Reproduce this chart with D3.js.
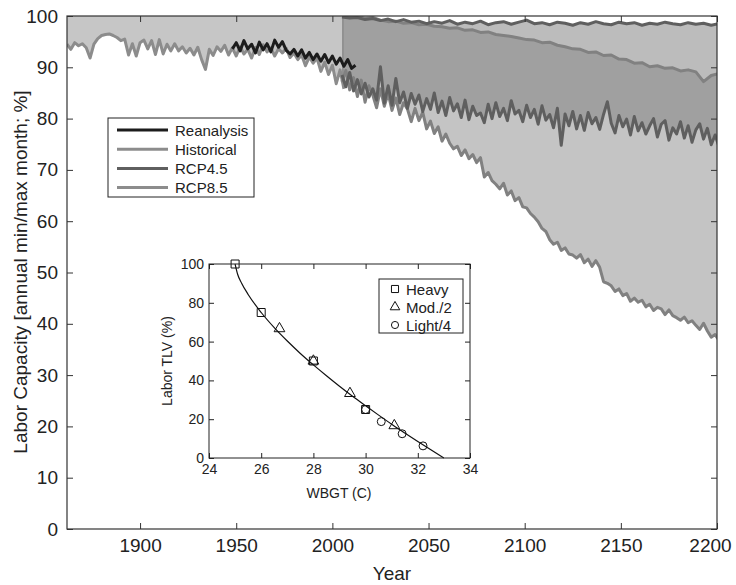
<!DOCTYPE html>
<html>
<head>
<meta charset="utf-8">
<script src="https://d3js.org/d3.v7.min.js"></script>
<style>
  body { margin: 0; background: #fff; }
  text { font-family: "Liberation Sans", Arial, Helvetica, sans-serif; fill: #222; }
</style>
</head>
<body>
<div id="chart"></div>
<script>
// ---- data ----
// historical ensemble lower bound, 1862..2006 every 2 years
var histStart = 1862, histStep = 2;
var histVals = [94.5, 93.5, 94.8, 94.2, 94.6, 93.8, 91.8, 94.5, 95.6, 96.2,
  96.4, 96.5, 96.2, 95.8, 95.2, 95.5, 92.4, 94.6, 92.2, 94.8,
  95.3, 93.6, 95.2, 92.5, 95.4, 92.6, 94.5, 93.2, 94.6, 93.2,
  94.0, 92.8, 93.7, 92.4, 93.9, 91.5, 89.6, 93.5, 92.3, 94.0,
  93.1, 94.3, 92.4, 93.8, 92.2, 94.0, 92.6, 93.5, 91.8, 93.9,
  92.5, 94.4, 93.0, 93.8, 92.2, 93.6, 92.8, 93.7, 91.9, 92.8,
  91.5, 92.4, 90.3, 92.0, 90.8, 91.8, 89.2, 91.0, 88.6, 90.4,
  86.8, 89.5, 85.8];
// reanalysis, 1948..2012 every 2 years
var reanStart = 1948, reanStep = 2;
var reanVals = [93.6, 94.8, 93.2, 95.2, 93.6, 94.5, 92.8, 94.9, 93.4, 94.6,
  93.0, 95.3, 93.9, 95.0, 93.3, 92.6, 93.5, 92.2, 93.4, 91.8,
  92.9, 91.5, 92.6, 91.2, 92.5, 90.9, 92.2, 90.6, 91.8, 90.2,
  91.5, 89.8, 90.4];
// RCP upper bounds, 2005..2201 every 4 years
var upStart = 2005, upStep = 4;
var rcp45Upper = [99.8, 99.6, 99.7, 99.3, 99.5, 99.1, 99.4, 98.9, 99.3, 98.8,
  99.0, 98.5, 98.9, 98.6, 99.1, 98.4, 98.8, 98.5, 99.0, 98.3,
  98.7, 98.9, 98.4, 98.8, 99.2, 98.5, 98.7, 98.3, 98.8, 98.6,
  98.2, 98.7, 98.4, 98.9, 98.5, 98.3, 98.8, 98.5, 98.7, 98.2,
  98.6, 98.4, 98.8, 98.5, 98.3, 98.7, 98.4, 98.6, 98.2, 98.5];
var rcp85Upper = [99.9, 99.8, 99.9, 99.6, 99.7, 99.2, 98.9, 99.0, 98.6, 98.7,
  98.3, 98.4, 98.0, 97.9, 97.6, 97.7, 97.2, 97.3, 96.8, 96.9,
  96.4, 96.2, 96.0, 95.7, 95.4, 95.3, 94.8, 94.9, 94.3, 94.0,
  93.6, 93.5, 92.9, 93.0, 92.3, 92.4, 91.6, 91.5, 90.8, 90.9,
  90.1, 90.3, 89.8, 89.9, 89.3, 89.5, 89.1, 87.2, 88.4, 88.8];
// RCP lower bounds, 2005..2201 every 2 years
var lowStart = 2005, lowStep = 2;
var rcp45Lower = [88.5, 86.2, 89.0, 85.4, 87.6, 84.8, 86.9, 84.2, 85.8, 83.6,
  90.1, 83.0, 86.4, 82.6, 87.8, 83.1, 85.2, 82.0, 84.9, 82.8,
  84.6, 81.4, 83.9, 81.8, 85.0, 81.2, 83.4, 80.6, 84.1, 81.5,
  82.9, 80.2, 83.6, 79.8, 82.4, 80.6, 81.1, 79.2, 82.8, 80.0,
  83.1, 80.4, 82.0, 79.6, 83.5, 80.9, 81.6, 79.4, 82.6, 80.2,
  81.8, 78.9, 82.5, 79.7, 80.8, 78.2, 82.0, 74.8, 80.9, 78.6,
  81.4, 78.0, 80.6, 77.7, 81.2, 79.0, 80.2, 77.9, 80.8, 83.3,
  79.1, 77.2, 80.6, 78.4, 79.9, 76.8, 80.4, 77.6, 79.2, 77.0,
  78.6, 80.0, 76.4, 78.9, 79.6, 75.8, 78.2, 77.0, 79.4, 76.2,
  78.6, 75.4, 77.8, 79.0, 76.0, 78.1, 74.9, 76.8, 74.6];
var rcp85Lower = [87.2, 89.4, 85.6, 88.0, 84.3, 87.5, 83.2, 86.4, 84.6, 82.1,
  85.8, 82.4, 84.9, 81.6, 84.0, 80.8, 83.1, 81.9, 79.4, 82.0,
  79.6, 81.2, 78.0, 79.5, 77.1, 78.4, 75.6, 77.0, 75.2, 74.1,
  74.6, 72.8, 73.9, 72.2, 73.0, 71.4, 72.4, 68.6, 69.5, 67.9,
  67.2, 66.3, 67.4, 65.1, 65.9, 64.0, 64.6, 62.8, 62.6, 61.5,
  60.8, 59.9, 58.6, 58.0, 56.4, 55.5, 55.9, 54.3, 54.8, 53.6,
  53.4, 52.8, 53.5, 51.9, 52.6, 51.2, 52.3, 51.0, 48.2, 47.9,
  47.4, 46.3, 46.8, 45.5, 45.9, 44.4, 45.0, 44.2, 44.6, 43.3,
  43.8, 42.6, 43.2, 42.9, 41.8, 42.7, 41.6, 41.2, 40.7, 41.3,
  40.2, 40.6, 39.7, 38.9, 40.1, 38.6, 37.4, 37.9, 36.8];
var yearTicks = [1900, 1950, 2000, 2050, 2100, 2150, 2200];
var capTicks = [0, 10, 20, 30, 40, 50, 60, 70, 80, 90, 100];
var legendNames = ["Reanalysis", "Historical", "RCP4.5", "RCP8.5"];

// inset: TLV points and fitted curve
var heavyX = [25, 26, 28, 30], heavyY = [100, 75, 50, 25];
var modX = [26.7, 28, 29.4, 31.1], modY = [66.7, 50, 33.3, 16.7];
var lightX = [30, 30.6, 31.4, 32.2], lightY = [25, 18.75, 12.5, 6.25];
var curveX = [25, 25.1, 25.25, 25.5, 26, 26.5, 27, 27.5, 28, 28.5, 29, 29.5, 30, 30.5, 31, 31.5, 32, 32.5, 33];
var curveY = [100, 94.6, 90.1, 84.3, 75, 67.2, 60.3, 53.9, 48.0, 42.4, 37.0, 31.8, 26.9, 22.1, 17.4, 12.9, 8.5, 4.2, 0];
var wbgtTicks = [24, 26, 28, 30, 32, 34];
var tlvTicks = [0, 20, 40, 60, 80, 100];
var insetNames = ["Heavy", "Mod./2", "Light/4"];

function series(start, step, vals) {
  return vals.map(function(v, i) { return {year: start + i * step, v: v}; });
}
var hist = series(histStart, histStep, histVals);
var rean = series(reanStart, reanStep, reanVals);
var u45 = series(upStart, upStep, rcp45Upper);
var u85 = series(upStart, upStep, rcp85Upper);
var l45 = series(lowStart, lowStep, rcp45Lower);
var l85 = series(lowStart, lowStep, rcp85Lower);

// ---- setup ----
var svg = d3.select("#chart").append("svg")
  .attr("width", 736)
  .attr("height", 585);

var x = d3.scaleLinear().domain([1862, 2200]).range([67, 717]);
var y = d3.scaleLinear().domain([0, 100]).range([529, 16]);

svg.append("clipPath").attr("id", "plotclip")
  .append("rect").attr("x", 67).attr("y", 16).attr("width", 650).attr("height", 513);

var plot = svg.append("g").attr("clip-path", "url(#plotclip)");

var line = d3.line().x(function(d) { return x(d.year); }).y(function(d) { return y(d.v); });

// historical band: from lower bound up to the top
plot.append("path")
  .datum(hist.filter(function(d) { return d.year <= 2006; }))
  .attr("fill", "#c6c6c6")
  .attr("d", d3.area()
    .x(function(d) { return x(d.year); })
    .y0(function(d) { return y(d.v); })
    .y1(y(100)));

// RCP bands (upper forward, lower backwards)
function band(up, low) {
  return line(up.concat(low.slice().reverse())) + "Z";
}
plot.append("path").attr("d", band(u45, l45)).attr("fill", "#7e7e7e").attr("fill-opacity", 0.52);
plot.append("path").attr("d", band(u85, l85)).attr("fill", "#7e7e7e").attr("fill-opacity", 0.457);

function drawLine(data, color) {
  plot.append("path").datum(data)
    .attr("fill", "none")
    .attr("stroke", color)
    .attr("stroke-width", 3)
    .attr("stroke-linejoin", "round")
    .attr("d", line);
}
drawLine(hist, "#8c8c8c");
drawLine(u85, "#818181");
drawLine(l85, "#818181");
drawLine(u45, "#5f5f5f");
drawLine(l45, "#5f5f5f");
drawLine(rean, "#1c1c1c");

// ---- axes (ticks inside, box) ----
function styleAxis(g) {
  g.select(".domain").remove();
  g.selectAll(".tick line").attr("stroke", "#333");
  g.selectAll(".tick text").style("font-size", "19px").attr("fill", "#222");
}
svg.append("g").attr("transform", "translate(0,529)")
  .call(d3.axisBottom(x).tickValues(yearTicks).tickFormat(d3.format("d")).tickSize(-6).tickPadding(10))
  .call(styleAxis)
  .selectAll(".tick text")
  .attr("dx", function(d) { return d == 2200 ? -7 : 0; });
svg.append("g").attr("transform", "translate(0,16)")
  .call(d3.axisTop(x).tickValues(yearTicks).tickFormat("").tickSize(-6))
  .call(styleAxis);
svg.append("g").attr("transform", "translate(67,0)")
  .call(d3.axisLeft(y).tickValues(capTicks).tickSize(-6).tickPadding(9))
  .call(styleAxis);
svg.append("g").attr("transform", "translate(717,0)")
  .call(d3.axisRight(y).tickValues(capTicks).tickFormat("").tickSize(-6))
  .call(styleAxis);

svg.append("rect").attr("x", 67).attr("y", 16).attr("width", 650).attr("height", 513)
  .attr("fill", "none").attr("stroke", "#333").attr("stroke-width", 1.2);

svg.append("text")
  .attr("x", 392).attr("y", 580)
  .attr("text-anchor", "middle")
  .style("font-size", "19px")
  .text("Year");
svg.append("text")
  .attr("transform", "translate(27,272) rotate(-90)")
  .attr("text-anchor", "middle")
  .style("font-size", "19px")
  .text("Labor Capacity [annual min/max month; %]");

// ---- main legend ----
var legColors = ["#1c1c1c", "#8c8c8c", "#5f5f5f", "#8c8c8c"];
var leg = svg.append("g");
leg.append("rect").attr("x", 108).attr("y", 118).attr("width", 146).attr("height", 79)
  .attr("fill", "#fff").attr("stroke", "#222").attr("stroke-width", 1);
legendNames.forEach(function(name, i) {
  var ly = 130 + i * 19.2;
  leg.append("line").attr("x1", 117).attr("x2", 168).attr("y1", ly).attr("y2", ly)
    .attr("stroke", legColors[i]).attr("stroke-width", 3);
  leg.append("text").attr("x", 175).attr("y", ly + 5.5)
    .style("font-size", "15px").text(name);
});

// ---- inset ----
var ix = d3.scaleLinear().domain([24, 34]).range([209, 470]);
var iy = d3.scaleLinear().domain([0, 100]).range([458, 264]);
var inset = svg.append("g");
inset.append("rect").attr("x", 209).attr("y", 264).attr("width", 261).attr("height", 194)
  .attr("fill", "#fff");

var curvePts = curveX.map(function(d, i) { return [ix(d), iy(curveY[i])]; });
inset.append("path")
  .attr("d", d3.line().curve(d3.curveMonotoneX)(curvePts))
  .attr("fill", "none").attr("stroke", "#111").attr("stroke-width", 1.2);

function markers(xs, ys, type, size) {
  inset.selectAll(null).data(xs).enter().append("path")
    .attr("transform", function(d, i) { return "translate(" + ix(d) + "," + iy(ys[i]) + ")"; })
    .attr("d", d3.symbol().type(type).size(size))
    .attr("fill", "none").attr("stroke", "#111").attr("stroke-width", 1);
}
markers(heavyX, heavyY, d3.symbolSquare, 64);
markers(modX, modY, d3.symbolTriangle, 50);
markers(lightX, lightY, d3.symbolCircle, 50);

function styleInset(g) {
  g.select(".domain").remove();
  g.selectAll(".tick line").attr("stroke", "#222");
  g.selectAll(".tick text").style("font-size", "14px").attr("fill", "#222");
}
inset.append("g").attr("transform", "translate(0,458)")
  .call(d3.axisBottom(ix).tickValues(wbgtTicks).tickSize(-5).tickPadding(6))
  .call(styleInset);
inset.append("g").attr("transform", "translate(0,264)")
  .call(d3.axisTop(ix).tickValues(wbgtTicks).tickFormat("").tickSize(-5))
  .call(styleInset);
inset.append("g").attr("transform", "translate(209,0)")
  .call(d3.axisLeft(iy).tickValues(tlvTicks).tickSize(-5).tickPadding(5))
  .call(styleInset);
inset.append("g").attr("transform", "translate(470,0)")
  .call(d3.axisRight(iy).tickValues(tlvTicks).tickFormat("").tickSize(-5))
  .call(styleInset);
inset.append("rect").attr("x", 209).attr("y", 264).attr("width", 261).attr("height", 194)
  .attr("fill", "none").attr("stroke", "#222").attr("stroke-width", 1);

inset.append("text").attr("x", 339).attr("y", 498).attr("text-anchor", "middle")
  .style("font-size", "14px").text("WBGT (C)");
inset.append("text").attr("transform", "translate(172,361) rotate(-90)")
  .attr("text-anchor", "middle").style("font-size", "14px").text("Labor TLV (%)");

// inset legend
inset.append("rect").attr("x", 379).attr("y", 279).attr("width", 84).attr("height", 54)
  .attr("fill", "#fff").attr("stroke", "#222").attr("stroke-width", 1);
var insetSyms = [d3.symbolSquare, d3.symbolTriangle, d3.symbolCircle];
insetNames.forEach(function(name, i) {
  var ly = 289 + i * 18;
  inset.append("path")
    .attr("transform", "translate(395," + ly + ")")
    .attr("d", d3.symbol().type(insetSyms[i]).size(i == 0 ? 50 : 40))
    .attr("fill", "none").attr("stroke", "#111").attr("stroke-width", 1);
  inset.append("text").attr("x", 406).attr("y", ly + 5.5)
    .style("font-size", "15px").text(name);
});
</script>
</body>
</html>
